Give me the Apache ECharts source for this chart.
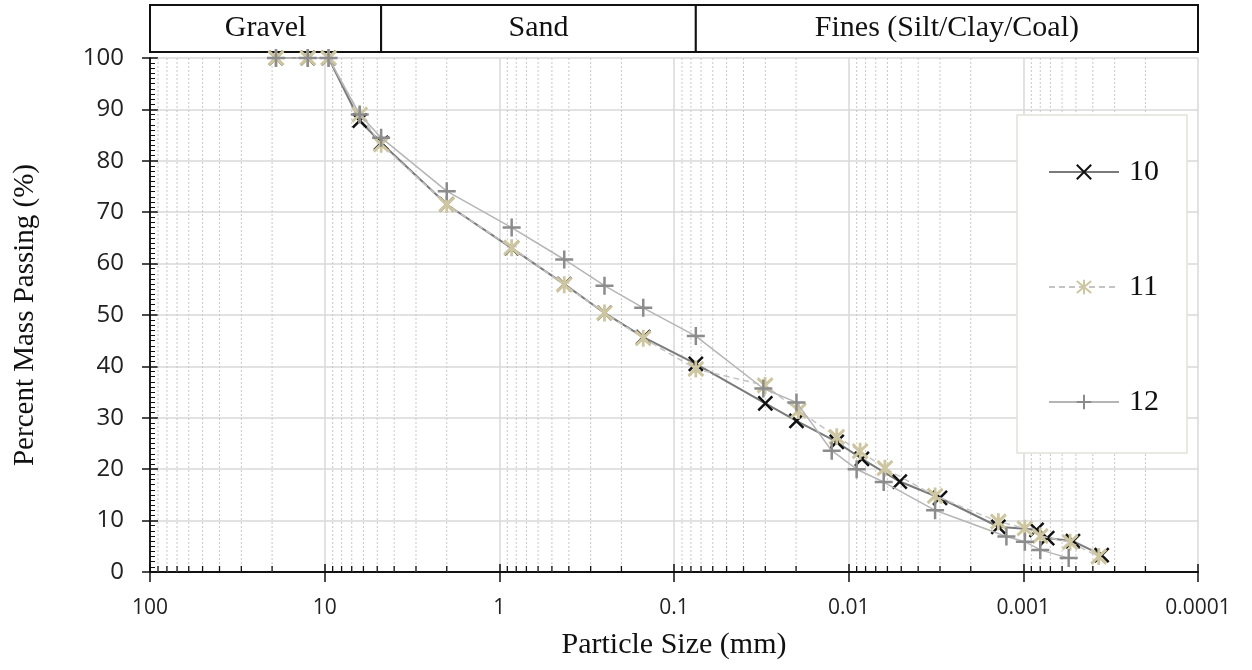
<!DOCTYPE html>
<html>
<head>
<meta charset="utf-8">
<script src="https://cdn.jsdelivr.net/npm/echarts@6.0.0/dist/echarts.min.js"></script>
<style>
html,body{margin:0;padding:0;background:#fff;}
#chart{width:1252px;height:670px;}
</style>
</head>
<body>
<div id="chart"></div>
<script>
// ---- data ----
const seriesNames = ['10', '11', '12'];

const size10 = [19, 12.5, 9.5, 6.3, 4.75, 2.0, 0.85, 0.425, 0.25, 0.15, 0.075, 0.0300, 0.0199, 0.0117, 0.0084, 0.0051, 0.0030, 0.00139, 0.00084, 0.00073, 0.00052, 0.000356];
const pass10 = [100, 100, 100, 87.8, 83.5, 71.5, 63.0, 56.0, 50.4, 45.7, 40.5, 32.8, 29.4, 25.3, 22.0, 17.6, 14.4, 8.8, 8.2, 6.6, 6.0, 3.3];

const size11 = [19, 12.5, 9.5, 6.3, 4.75, 2.0, 0.85, 0.425, 0.25, 0.15, 0.075, 0.0301, 0.0194, 0.0117, 0.0086, 0.0062, 0.0032, 0.00139, 0.00098, 0.0008, 0.00054, 0.00037];
const pass11 = [100, 100, 100, 89.0, 83.2, 71.5, 63.1, 55.9, 50.4, 45.5, 39.5, 36.3, 31.4, 26.3, 23.5, 20.2, 14.8, 9.8, 8.5, 7.0, 5.8, 3.0];

const size12 = [19, 12.5, 9.5, 6.3, 4.75, 2.0, 0.85, 0.425, 0.25, 0.15, 0.075, 0.0308, 0.0199, 0.0125, 0.0090, 0.0063, 0.0032, 0.00125, 0.00098, 0.0008, 0.00055];
const pass12 = [100, 100, 100, 89.0, 84.5, 74.1, 67.0, 60.8, 55.7, 51.4, 45.9, 35.7, 33.0, 23.6, 20.0, 17.5, 12.0, 6.9, 5.9, 4.3, 2.7];

const xTickValues = [100, 10, 1, 0.1, 0.01, 0.001, 0.0001];
const xTickLabels = ['100', '10', '1', '0.1', '0.01', '0.001', '0.0001'];

const bandNames = ['Gravel', 'Sand', 'Fines (Silt/Clay/Coal)'];
const bandFrom = [100, 4.75, 0.075];
const bandTo = [4.75, 0.075, 0.0001];

// minor grid positions (2..9 within each decade)
const minorVals = [];
for (let i = 0; i < xTickValues.length - 1; i++) {
  const base = xTickValues[i + 1];
  for (let m = 2; m <= 9; m++) minorVals.push([+(base * m).toPrecision(6), 0]);
}

function zip(a, b) { return a.map((v, i) => [v, b[i]]); }

const SERIF = '"Liberation Serif", "Times New Roman", serif';
const SANS = '"Open Sans", "Noto Sans", sans-serif';

const symX = 'path://M0,0L10,10M10,0L0,10';
const symAst = 'path://M0,1L10,11M10,1L0,11M5,0L5,12';
const symPlus = 'path://M5,0L5,10M0,5L10,5';

const chart = echarts.init(document.getElementById('chart'), null, {renderer: 'canvas'});

const option = {
  animation: false,
  backgroundColor: '#fff',
  grid: [
    {left: 150, right: 54, top: 58, bottom: 98},
    {left: 150, right: 54, top: 5, height: 47}
  ],
  legend: {
    orient: 'vertical',
    left: 1017, top: 115,
    data: seriesNames,
    itemWidth: 70, itemHeight: 18, itemGap: 85,
    padding: [42, 28, 36, 31],
    backgroundColor: '#fff',
    borderColor: '#e2e2da', borderWidth: 1.5,
    textStyle: {fontFamily: SERIF, fontSize: 30, color: '#111', lineHeight: 30, padding: [0, 0, 0, 5]},
    selectedMode: false
  },
  xAxis: [
    {
      type: 'log', logBase: 10, min: 0.0001, max: 100, inverse: true, gridIndex: 0,
      name: 'Particle Size (mm)', nameLocation: 'middle', nameGap: 58,
      nameTextStyle: {fontFamily: SERIF, fontSize: 30, color: '#111'},
      axisLine: {show: true, lineStyle: {color: '#111', width: 2}},
      axisTick: {show: true, inside: false, length: 10, lineStyle: {color: '#111', width: 1.5}},
      axisLabel: {
        margin: 26, fontFamily: SANS, fontSize: 21, color: '#222',
        formatter: function (v) {
          let best = 0, bd = 1e9;
          xTickValues.forEach((t, i) => { const d = Math.abs(Math.log10(t) - Math.log10(v)); if (d < bd) { bd = d; best = i; } });
          return xTickLabels[best];
        }
      },
      splitLine: {show: true, lineStyle: {color: '#d9d9d9', width: 1.5}}
    },
    {
      type: 'log', logBase: 10, min: 0.0001, max: 100, inverse: true, gridIndex: 0, position: 'bottom',
      axisLine: {show: false},
      axisTick: {show: true, inside: true, length: 8, lineStyle: {color: '#111', width: 1.5}},
      axisLabel: {show: false},
      splitLine: {show: false}
    },
    {
      type: 'log', logBase: 10, min: 0.0001, max: 100, inverse: true, gridIndex: 1, show: false
    }
  ],
  yAxis: [
    {
      type: 'value', min: 0, max: 100, interval: 10, gridIndex: 0,
      name: 'Percent Mass Passing (%)', nameLocation: 'middle', nameGap: 110, nameRotate: 90,
      nameTextStyle: {fontFamily: SERIF, fontSize: 29, color: '#111'},
      axisLine: {show: true, lineStyle: {color: '#111', width: 1.5}},
      axisTick: {show: true, inside: false, length: 8, lineStyle: {color: '#111', width: 1.5}},
      axisLabel: {margin: 26, fontFamily: SANS, fontSize: 24, color: '#222'},
      splitLine: {show: true, lineStyle: {color: '#d9d9d9', width: 1.5}}
    },
    {
      type: 'value', min: 0, max: 100, interval: 10, gridIndex: 0, position: 'left',
      axisLine: {show: true, lineStyle: {color: '#111', width: 1.5}},
      axisTick: {show: true, inside: true, length: 8, lineStyle: {color: '#111', width: 1.5}},
      minorTick: {show: true, splitNumber: 10, length: 5, lineStyle: {color: '#111', width: 1}},
      axisLabel: {show: false},
      splitLine: {show: false}
    },
    {type: 'value', min: 0, max: 1, gridIndex: 1, show: false}
  ],
  series: [
    {
      type: 'custom', name: 'minorGrid', xAxisIndex: 0, yAxisIndex: 0, z: 1, silent: true,
      data: minorVals,
      renderItem: function (params, api) {
        const v = api.value(0);
        const p0 = api.coord([v, 0]);
        const p1 = api.coord([v, 100]);
        return {
          type: 'group',
          children: [
            {type: 'line', shape: {x1: p0[0], y1: p0[1], x2: p1[0], y2: p1[1]},
             style: {stroke: '#c8c8c8', lineWidth: 1, lineDash: [2, 2]}},
            {type: 'line', shape: {x1: p0[0], y1: p0[1], x2: p0[0], y2: p0[1] - 6},
             style: {stroke: '#111', lineWidth: 1.3}}
          ]
        };
      }
    },
    {
      type: 'custom', name: 'bands', xAxisIndex: 2, yAxisIndex: 2, silent: true, clip: false,
      data: bandFrom.map((f, i) => [f, bandTo[i]]),
      renderItem: function (params, api) {
        const a = api.coord([api.value(0), 1]);
        const b = api.coord([api.value(1), 0]);
        return {
          type: 'rect',
          shape: {x: a[0], y: a[1], width: b[0] - a[0], height: b[1] - a[1]},
          style: {fill: '#fff', stroke: '#111', lineWidth: 2},
          textContent: {style: {text: bandNames[params.dataIndex], font: '30px ' + SERIF, fill: '#111'}},
          textConfig: {position: 'inside'}
        };
      }
    },
    {
      name: '10', type: 'line', xAxisIndex: 0, yAxisIndex: 0, z: 3,
      data: zip(size10, pass10),
      symbol: symX, symbolSize: 14, showAllSymbol: true,
      lineStyle: {color: '#7a7a7a', width: 2},
      itemStyle: {color: '#111', borderColor: '#111', borderWidth: 2.5}
    },
    {
      name: '11', type: 'line', xAxisIndex: 0, yAxisIndex: 0, z: 4,
      data: zip(size11, pass11),
      symbol: symAst, symbolSize: [15, 17], showAllSymbol: true,
      lineStyle: {color: '#c4c4c4', width: 1.5, type: [6, 4]},
      itemStyle: {color: '#cdc6a0', borderColor: '#cdc6a0', borderWidth: 3}
    },
    {
      name: '12', type: 'line', xAxisIndex: 0, yAxisIndex: 0, z: 5,
      data: zip(size12, pass12),
      symbol: symPlus, symbolSize: 18, showAllSymbol: true,
      lineStyle: {color: '#b5b5b5', width: 1.5},
      itemStyle: {color: '#8c8c8c', borderColor: '#8c8c8c', borderWidth: 2.5}
    }
  ]
};
chart.setOption(option);
</script>
</body>
</html>
